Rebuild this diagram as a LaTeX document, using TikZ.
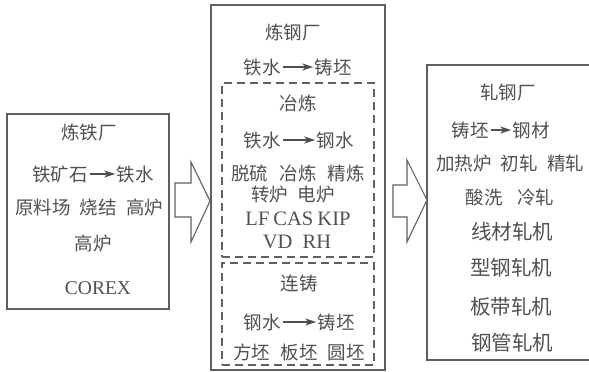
\documentclass[tikz,border=0pt]{standalone}
\usepackage{fontspec}
\setmainfont{Liberation Serif}
\newfontfamily\cjk{Noto Sans CJK SC}
\usetikzlibrary{arrows.meta}
\definecolor{ink}{RGB}{80,80,80}
\definecolor{edge}{RGB}{95,95,95}
\begin{document}
\begin{tikzpicture}[x=1pt,y=-1pt,
  box/.style={draw=edge,line width=1.4pt,inner sep=0pt},
  dbox/.style={draw=edge,line width=1.1pt,dash pattern=on 8pt off 5pt,inner sep=0pt},
  zh/.style={text=ink,font=\cjk\fontsize{18.5}{21}\selectfont,inner sep=0pt},
  zhb/.style={text=ink,font=\cjk\fontsize{20.5}{23}\selectfont,inner sep=0pt},
  en/.style={text=ink,font=\fontsize{20.5}{22}\selectfont,inner sep=0pt},
  flow/.style={draw=ink,line width=1.4pt,-{Stealth[length=11pt,width=7pt,inset=3pt]},shorten <=2pt,shorten >=1pt},
  blk/.style={draw=edge,line width=1.1pt,line join=miter,fill=white}]
\useasboundingbox (0,0) rectangle (589,372);

% frames
\node[box,minimum width=162pt,minimum height=195pt] (iron) at (88,211.5) {};
\node[box,minimum width=174pt,minimum height=365pt] (steel) at (298,187.5) {};
\node[dbox,minimum width=152pt,minimum height=174pt] (smelt) at (298,170) {};
\node[dbox,minimum width=152pt,minimum height=102pt] (cast) at (298,314) {};
\coordinate (rtl) at (591,65);
\coordinate (rbl) at (591,360);
\draw[box] (rtl) -| (427,360) -- (rbl);

% block arrows
\draw[blk] (175,183) -- (191,183) -- (191,162) -- (210,201) -- (191,242) -- (191,217) -- (175,217) -- cycle;
\draw[blk] (393,185) -- (407,185) -- (407,160) -- (427,200) -- (407,242) -- (407,217) -- (393,217) -- cycle;

% left box
\node[zh] (l1) at (89,132) {炼铁厂};
\node[zh] (ore) at (60,174) {铁矿石};
\node[zh] (hm1) at (135,174) {铁水};
\draw[flow] (ore) -- (hm1);
\node[zh] (l3) at (89,207) {原料场\hspace{0.5em}烧结\hspace{0.5em}高炉};
\node[zh] (l4) at (93,243) {高炉};
\node[en,font=\fontsize{19.5}{22}\selectfont] (l5) at (98,288) {COREX};

% middle box
\node[zh] (m1) at (293,32) {炼钢厂};
\node[zh] (hm2) at (262,67) {铁水};
\node[zh] (bil1) at (333,67) {铸坯};
\draw[flow] (hm2) -- (bil1);
\node[zh] (m3) at (298,103) {冶炼};
\node[zh] (hm3) at (262,140) {铁水};
\node[zh] (ls1) at (335,140) {钢水};
\draw[flow] (hm3) -- (ls1);
\node[zh] (m5) at (298,173) {脱硫\hspace{0.6em}冶炼\hspace{0.6em}精炼};
\node[zh] (m6) at (293,195) {转炉\hspace{0.5em}电炉};
\node[en] (m7) at (298,219) {LF\hspace{0.2em}CAS\hspace{0.2em}KIP};
\node[en] (m8) at (297,242) {VD\hspace{0.5em}RH};
\node[zh] (m9) at (299,283) {连铸};
\node[zh] (ls2) at (262,322) {钢水};
\node[zh] (bil2) at (336,322) {铸坯};
\draw[flow] (ls2) -- (bil2);
\node[zh] (m11) at (299,352) {方坯\hspace{0.55em}板坯\hspace{0.55em}圆坯};

% right box
\node[zh] (r1) at (508,92) {轧钢厂};
\node[zh] (bil3) at (470,130) {铸坯};
\node[zh] (prod) at (531,130) {钢材};
\draw[flow] (bil3) -- (prod);
\node[zh] (r3) at (510,163) {加热炉\hspace{0.5em}初轧\hspace{0.5em}精轧};
\node[zh] (r4) at (510,197) {酸洗\hspace{0.8em}冷轧};
\node[zhb] (r5) at (512,232) {线材轧机};
\node[zhb] (r6) at (511,268) {型钢轧机};
\node[zhb] (r7) at (511,307) {板带轧机};
\node[zhb] (r8) at (512,343) {钢管轧机};
\end{tikzpicture}
\end{document}
